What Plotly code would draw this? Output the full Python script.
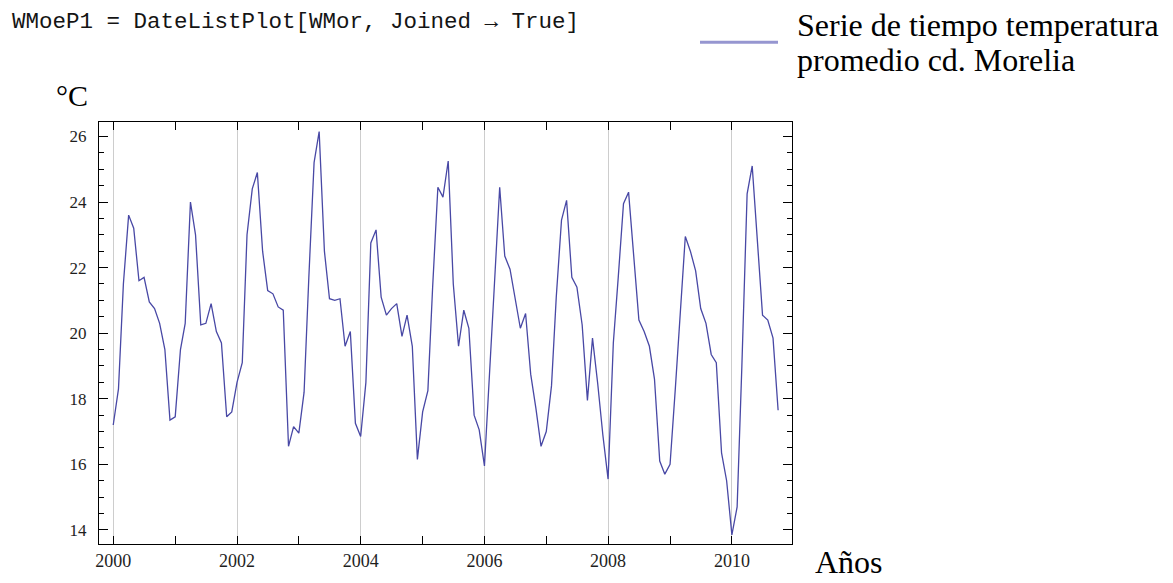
import pandas as pd
import plotly.graph_objects as go

# Monthly mean temperature (°C), Morelia, Jan 2000 - Oct 2010
temp_2000 = [17.2, 18.3, 21.5, 23.6, 23.2, 21.6, 21.7, 20.95, 20.75, 20.3, 19.5, 17.35]
temp_2001 = [17.45, 19.5, 20.3, 24.0, 23.0, 20.25, 20.3, 20.9, 20.05, 19.7, 17.45, 17.6]
temp_2002 = [18.5, 19.1, 23.0, 24.4, 24.9, 22.5, 21.3, 21.2, 20.8, 20.7, 16.55, 17.15]
temp_2003 = [16.95, 18.2, 21.7, 25.2, 26.15, 22.5, 21.05, 21.0, 21.05, 19.6, 20.05, 17.25]
temp_2004 = [16.85, 18.5, 22.75, 23.15, 21.1, 20.55, 20.75, 20.9, 19.9, 20.55, 19.6, 16.15]
temp_2005 = [17.6, 18.25, 21.4, 24.45, 24.15, 25.25, 21.5, 19.6, 20.7, 20.15, 17.5, 17.05]
temp_2006 = [15.95, 18.7, 21.5, 24.45, 22.35, 21.95, 21.1, 20.15, 20.6, 18.75, 17.7, 16.55]
temp_2007 = [17.0, 18.4, 21.1, 23.45, 24.05, 21.7, 21.4, 20.25, 17.95, 19.85, 18.45, 16.9]
temp_2008 = [15.55, 19.7, 21.7, 23.95, 24.3, 22.4, 20.4, 20.05, 19.6, 18.6, 16.1, 15.7]
temp_2009 = [16.0, 18.3, 20.5, 22.95, 22.5, 21.9, 20.75, 20.3, 19.35, 19.1, 16.35, 15.5]
temp_2010 = [13.85, 14.7, 19.0, 24.25, 25.1, 22.8, 20.55, 20.4, 19.85, 17.65]

values = (temp_2000 + temp_2001 + temp_2002 + temp_2003 + temp_2004 + temp_2005
          + temp_2006 + temp_2007 + temp_2008 + temp_2009 + temp_2010)
dates = pd.date_range("2000-01-01", periods=len(values), freq="MS")

y_ticks = [14, 16, 18, 20, 22, 24, 26]
code_text = "WMoeP1 = DateListPlot[WMor, Joined \u2192 True]"
legend_lines = ["Serie de tiempo temperatura", "promedio cd. Morelia"]
y_unit = "°C"
x_unit = "Años"

line_color = "rgb(72,72,165)"
legend_color = "rgb(150,150,208)"
serif = "Liberation Serif, Times New Roman, serif"

fig = go.Figure()
fig.add_trace(go.Scatter(x=dates, y=values, mode="lines",
                         line=dict(color=line_color, width=1.3),
                         showlegend=False, hoverinfo="x+y"))

W, H = 1173, 583
L, R, T, B = 99, 792, 122, 551


def px(xp):
    return (xp - L) / (R - L)


def py(yp):
    return (B - yp) / (B - T)


fig.update_layout(
    width=W, height=H,
    margin=dict(l=L, r=W - R, t=T, b=H - B, pad=0),
    paper_bgcolor="white", plot_bgcolor="white",
    showlegend=False,
    xaxis=dict(
        type="date",
        range=["1999-10-09", "2010-12-22"],
        tick0="2000-01-01", dtick="M24", tickformat="%Y",
        ticks="inside", ticklen=8, tickwidth=1, tickcolor="black",
        showgrid=True, gridcolor="rgb(205,205,205)", gridwidth=1,
        showline=True, linecolor="black", linewidth=1.2, mirror="ticks",
        zeroline=False,
        minor=dict(tick0="2000-01-01", dtick="M12", ticks="inside", ticklen=8,
                   tickwidth=1, tickcolor="black", showgrid=False),
        tickfont=dict(family=serif, size=18, color="rgb(30,30,30)"),
        ticklabelstandoff=0,
    ),
    yaxis=dict(
        range=[13.57, 26.44],
        tickvals=y_ticks,
        ticks="inside", ticklen=9, tickwidth=1, tickcolor="black",
        showgrid=False, zeroline=False,
        showline=True, linecolor="black", linewidth=1.2, mirror="ticks",
        minor=dict(dtick=0.5, ticks="inside", ticklen=5, tickwidth=1,
                   tickcolor="black", showgrid=False),
        tickfont=dict(family=serif, size=17, color="rgb(30,30,30)"),
        ticklabelstandoff=8,
    ),
)

# code header
fig.add_annotation(xref="paper", yref="paper", x=px(10), y=py(20),
                   xanchor="left", yanchor="middle", showarrow=False,
                   text=code_text,
                   font=dict(family="Liberation Mono, monospace", size=22.5,
                             color="rgb(20,20,20)"))

# legend swatch + text
fig.add_shape(type="line", xref="paper", yref="paper",
              x0=px(700), x1=px(778), y0=py(41), y1=py(41),
              line=dict(color=legend_color, width=3))
fig.add_annotation(xref="paper", yref="paper", x=px(795), y=py(23),
                   xanchor="left", yanchor="middle", showarrow=False,
                   text=legend_lines[0],
                   font=dict(family=serif, size=32, color="black"))
fig.add_annotation(xref="paper", yref="paper", x=px(795), y=py(59),
                   xanchor="left", yanchor="middle", showarrow=False,
                   text=legend_lines[1],
                   font=dict(family=serif, size=32, color="black"))

# axis unit labels
fig.add_annotation(xref="paper", yref="paper", x=px(54), y=py(95),
                   xanchor="left", yanchor="middle", showarrow=False,
                   text=y_unit, font=dict(family=serif, size=30, color="black"))
fig.add_annotation(xref="paper", yref="paper", x=px(813), y=py(569),
                   xanchor="left", yanchor="middle", showarrow=False,
                   text=x_unit, font=dict(family=serif, size=32, color="black"))

fig.write_html("out.html")
